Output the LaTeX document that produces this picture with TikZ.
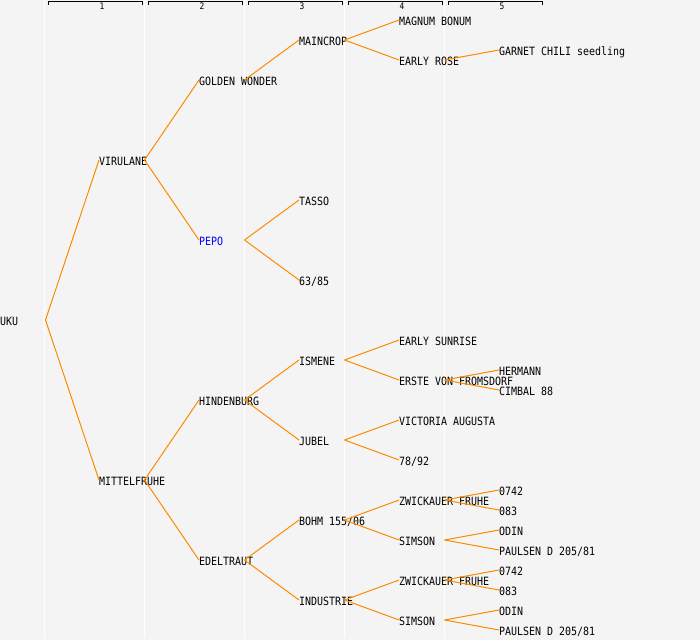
\documentclass[tikz,border=0pt]{standalone}
\usepackage{fontspec}
\newfontfamily\pixmono[FakeStretch=0.875]{DejaVu Sans Mono}
\definecolor{bgc}{HTML}{F4F4F4}
\definecolor{edgec}{HTML}{FF8A00}
\definecolor{pepoc}{HTML}{0000FF}
\tikzset{
  lbl/.style={anchor=west, inner sep=0pt, outer sep=0pt, text height=8.3pt, text depth=0pt,
    font=\pixmono\fontsize{11.4}{12}\selectfont},
  hdr/.style={inner sep=0pt, font=\pixmono\fontsize{9}{9}\selectfont},
  edge/.style={draw=edgec, line width=1pt},
  colline/.style={draw=white, line width=1.2pt},
  bracket/.style={draw=black, line width=1pt}
}
\begin{document}
\begin{tikzpicture}[x=1pt,y=-1pt]
\fill[bgc] (0,0) rectangle (700,640);
\useasboundingbox (0,0) rectangle (700,640);
% column separators
\foreach \cx in {44.5,144.5,244.5,344.5,444.5}
  \draw[colline] (\cx,0) -- (\cx,638);
% header brackets
\foreach \i in {1,...,5}{
  \pgfmathsetmacro{\xa}{48+100*(\i-1)}
  \pgfmathsetmacro{\xb}{142.5+100*(\i-1)}
  \pgfmathsetmacro{\xc}{102+100*(\i-1)}
  \draw[bracket] (\xa,5) -- (\xa,1.5) -- (\xb,1.5) -- (\xb,5);
  \node[hdr] (h\i) at (\xc,6.5) {\i};
}
% nodes
\node[lbl] (uku) at (0,321.5) {UKU};
\node[lbl] (vir) at (99,161.5) {VIRULANE};
\node[lbl] (mit) at (99,481.5) {MITTELFRUHE};
\node[lbl] (gw) at (199,81.5) {GOLDEN WONDER};
\node[lbl,text=pepoc] (pepo) at (199,241.5) {PEPO};
\node[lbl] (hin) at (199,401.5) {HINDENBURG};
\node[lbl] (ede) at (199,561.5) {EDELTRAUT};
\node[lbl] (mai) at (299,41.5) {MAINCROP};
\node[lbl] (tas) at (299,201.5) {TASSO};
\node[lbl] (n6385) at (299,281.5) {63/85};
\node[lbl] (ism) at (299,361.5) {ISMENE};
\node[lbl] (jub) at (299,441.5) {JUBEL};
\node[lbl] (boh) at (299,521.5) {BOHM 155/06};
\node[lbl] (ind) at (299,601.5) {INDUSTRIE};
\node[lbl] (mag) at (399,21.5) {MAGNUM BONUM};
\node[lbl] (ero) at (399,61.5) {EARLY ROSE};
\node[lbl] (esu) at (399,341.5) {EARLY SUNRISE};
\node[lbl] (erf) at (399,381.5) {ERSTE VON FROMSDORF};
\node[lbl] (via) at (399,421.5) {VICTORIA AUGUSTA};
\node[lbl] (n7892) at (399,461.5) {78/92};
\node[lbl] (zw1) at (399,501.5) {ZWICKAUER FRUHE};
\node[lbl] (sim1) at (399,541.5) {SIMSON};
\node[lbl] (zw2) at (399,581.5) {ZWICKAUER FRUHE};
\node[lbl] (sim2) at (399,621.5) {SIMSON};
\node[lbl] (gar) at (499,51.5) {GARNET CHILI seedling};
\node[lbl] (her) at (499,371.5) {HERMANN};
\node[lbl] (cim) at (499,391.5) {CIMBAL 88};
\node[lbl] (a0742) at (499,491.5) {0742};
\node[lbl] (a083) at (499,511.5) {083};
\node[lbl] (odi1) at (499,531.5) {ODIN};
\node[lbl] (pau1) at (499,551.5) {PAULSEN D 205/81};
\node[lbl] (b0742) at (499,571.5) {0742};
\node[lbl] (b083) at (499,591.5) {083};
\node[lbl] (odi2) at (499,611.5) {ODIN};
\node[lbl] (pau2) at (499,631.5) {PAULSEN D 205/81};
% connectors
\foreach \p/\c in {uku/vir, uku/mit, vir/gw, vir/pepo, mit/hin, mit/ede,
  gw/mai, pepo/tas, pepo/n6385, hin/ism, hin/jub, ede/boh, ede/ind,
  mai/mag, mai/ero, ism/esu, ism/erf, jub/via, jub/n7892, boh/zw1, boh/sim1,
  ind/zw2, ind/sim2, ero/gar, erf/her, erf/cim, zw1/a0742, zw1/a083,
  sim1/odi1, sim1/pau1, zw2/b0742, zw2/b083, sim2/odi2, sim2/pau2}
  \draw[edge] ([xshift=45.5pt,yshift=1.5pt]\p.west) -- ([yshift=1.5pt]\c.west);
\end{tikzpicture}
\end{document}
